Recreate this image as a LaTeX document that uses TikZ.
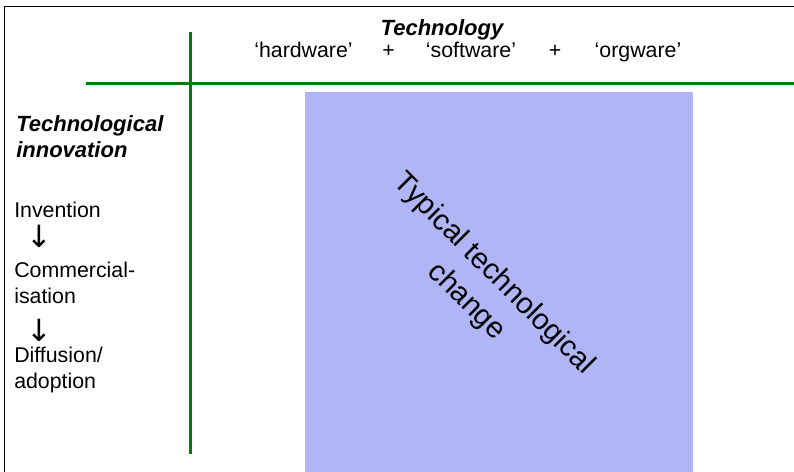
\documentclass[tikz,border=0pt]{standalone}
\usepackage{fontspec}
\setmainfont{Liberation Sans}
\newfontfamily\arrowfont{DejaVu Sans}
\definecolor{axisgreen}{RGB}{0,128,0}
\definecolor{lavender}{RGB}{176,181,246}

\begin{document}
\begin{tikzpicture}[x=0.75pt, y=-0.75pt,
  every node/.style={inner sep=0pt, font=\fontsize{16}{19.5}\selectfont},
  lbl/.style={anchor=base west, align=left},
  head/.style={font=\fontsize{16.5}{19}\selectfont\bfseries\itshape},
  down/.style={anchor=center, font=\arrowfont\fontsize{23}{23}\selectfont},
  axis/.style={draw=axisgreen, line width=2.4pt}]
\useasboundingbox (0,0) rectangle (794,472);
% outer frame, top and left sides only
\draw[line width=1.1pt] (4.7,472) -- (4.7,6.7) -- (794,6.7);
% shaded block of the matrix
\fill[lavender] (305,92) rectangle (693,472);
% axes
\draw[axis] (190.5,32) -- (190.5,454);
\draw[axis] (86,83.5) -- (794,83.5);
% column header
\node[head, anchor=base] (tech) at (442,35) {Technology};
\node[anchor=base] (hw) at (303.5,57) {`hardware'};
\node[anchor=base] (plusa) at (388.5,57) {+};
\node[anchor=base] (sw) at (471,57) {`software'};
\node[anchor=base] (plusb) at (555,57) {+};
\node[anchor=base] (ow) at (638,57) {`orgware'};
% row header: stages of innovation (base = last line)
\node[lbl, head] (innov) at (16,157) {Technological\\innovation};
\node[lbl] (invent) at (14,217) {Invention};
\node[down] (arra) at (39,236.5) {↓};
\node[lbl] (commerc) at (14,303) {Commercial-\\isation};
\node[down] (arrb) at (39,330) {↓};
\node[lbl] (diffus) at (14,388) {Diffusion/\\adoption};
% diagonal label in the block
\node[rotate=-45, align=center, font=\fontsize{22}{29}\selectfont]
  (typical) at (480,288) {Typical technological\\change};
\end{tikzpicture}
\end{document}
